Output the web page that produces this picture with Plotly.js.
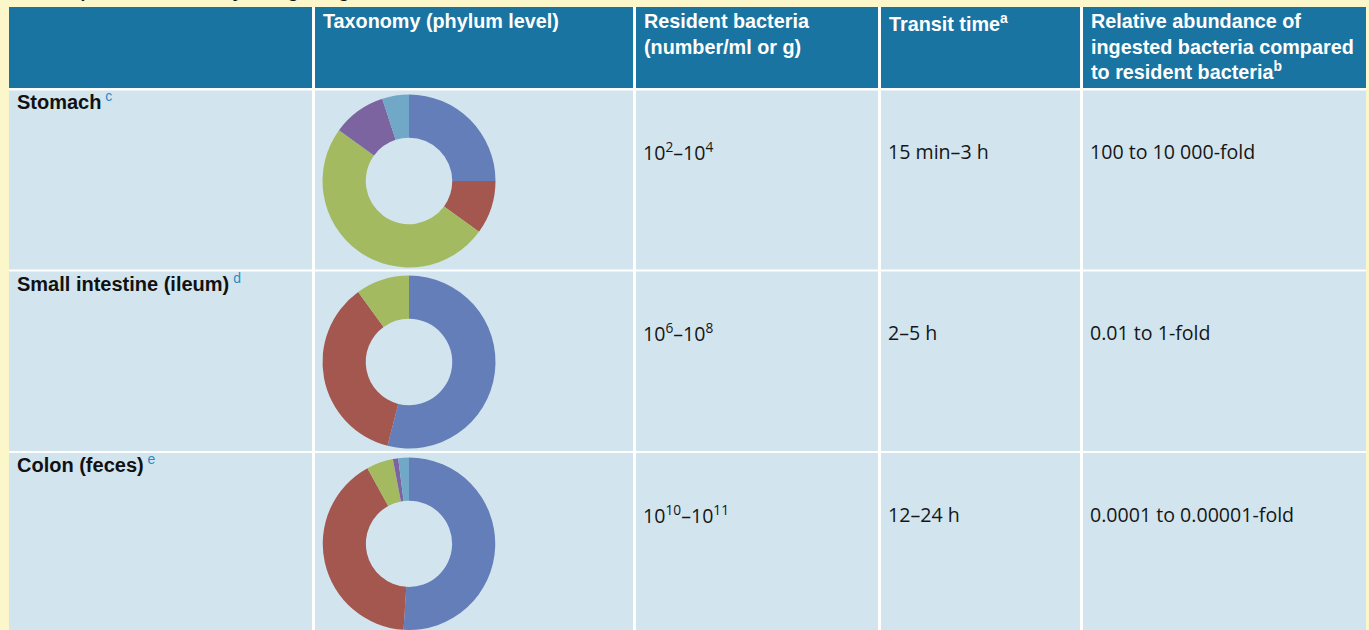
<!DOCTYPE html>
<html>
<head>
<meta charset="utf-8">
<script src="https://cdn.plot.ly/plotly-3.0.1.min.js"></script>
<style>html,body{margin:0;padding:0;background:#FCF7CB;}#chart{width:1369px;height:630px;}</style>
</head>
<body>
<div id="chart"></div>
<script>
// ---- data ----
const phyla = ['Firmicutes', 'Bacteroidetes', 'Proteobacteria', 'Actinobacteria', 'Fusobacteria'];
const phylumColors = ['#647EBA', '#A3574F', '#A4BA61', '#7B64A0', '#71A8C7'];
const sites = ['Stomach', 'Small intestine (ileum)', 'Colon (feces)'];
const siteNotes = ['c', 'd', 'e'];
const stomachShares = [25, 10, 50, 10, 5];
const ileumShares = [54, 36, 10, 0, 0];
const colonShares = [51, 41, 5, 1, 2];
const residentBacteria = ['10<sup>2</sup>–10<sup>4</sup>', '10<sup>6</sup>–10<sup>8</sup>', '10<sup>10</sup>–10<sup>11</sup>'];
const transitTimes = ['15 min–3 h', '2–5 h', '12–24 h'];
const relativeAbundance = ['100 to 10 000-fold', '0.01 to 1-fold', '0.0001 to 0.00001-fold'];
const headers = ['', 'Taxonomy (phylum level)', 'Resident bacteria<br>(number/ml or g)', 'Transit time<sup>a</sup>', 'Relative abundance of<br>ingested bacteria compared<br>to resident bacteria<sup>b</sup>'];
const tableTitle = 'Table 1 | Bacterial density along the gastrointestinal tract';

// ---- geometry helpers (pixels -> paper) ----
const W = 1369, H = 630;
const fx = x => x / W;
const fy = y => 1 - y / H;
const cols = [[9, 312], [315, 633], [636, 878], [881, 1080], [1083, 1366]];
const rows = [[7, 88], [90.5, 269.5], [271.5, 451], [453, 632]];
const headerColor = '#1A74A1', cellColor = '#D2E5EE';

const shapes = [];
rows.forEach((r, ri) => cols.forEach(c => {
  shapes.push({type: 'rect', xref: 'paper', yref: 'paper', layer: 'below',
    x0: fx(c[0]), x1: fx(c[1]), y0: fy(r[1]), y1: fy(r[0]),
    fillcolor: ri === 0 ? headerColor : cellColor, line: {width: 0}});
}));
// white gaps between cells
shapes.unshift({type: 'rect', xref: 'paper', yref: 'paper', layer: 'below',
  x0: fx(9), x1: fx(1366), y0: fy(632), y1: fy(7), fillcolor: '#FFFFFF', line: {width: 0}});

const annotations = [];
const hFont = {family: 'Liberation Sans, Arial, sans-serif', size: 19.8, color: '#FFFFFF', weight: 700};
headers.forEach((h, i) => {
  if (!h) return;
  annotations.push({xref: 'paper', yref: 'paper', x: fx(cols[i][0] + 6), y: fy(8), xanchor: 'left', yanchor: 'top',
    align: 'left', text: h, showarrow: false, font: hFont});
});
const lFont = {family: 'Liberation Sans, Arial, sans-serif', size: 20, color: '#111111', weight: 700};
const bFont = {family: 'Open Sans, sans-serif', size: 19.6, color: '#161616'};
sites.forEach((s, i) => {
  const top = rows[i + 1][0];
  annotations.push({xref: 'paper', yref: 'paper', x: fx(15), y: fy(top - 4), xanchor: 'left', yanchor: 'top',
    align: 'left', showarrow: false, font: lFont,
    text: s + '<sup><span style="color:#2A8CC4;font-weight:400"> ' + siteNotes[i] + '</span></sup>'});
  const mid = top + 61;
  [[residentBacteria, 2], [transitTimes, 3], [relativeAbundance, 4]].forEach(([arr, ci]) => {
    annotations.push({xref: 'paper', yref: 'paper', x: fx(cols[ci][0] + 5), y: fy(mid), xanchor: 'left', yanchor: 'middle',
      align: 'left', showarrow: false, font: bFont, text: arr[i]});
  });
});
annotations.push({xref: 'paper', yref: 'paper', x: fx(9), y: fy(3), xanchor: 'left', yanchor: 'bottom',
  showarrow: false, text: tableTitle, font: {family: 'Liberation Sans, Arial, sans-serif', size: 19, color: '#111111', weight: 700}});

// ---- donuts ----
const R = 86.5, cx = 409;
const centers = [181, 362, 544];
const shares = [stomachShares, ileumShares, colonShares];
const traces = shares.map((vals, i) => ({
  type: 'pie', labels: phyla, values: vals, hole: 0.5, sort: false, direction: 'clockwise', rotation: 0,
  marker: {colors: phylumColors, line: {width: 0}}, textinfo: 'none', hoverinfo: 'label+percent',
  name: sites[i], showlegend: false,
  domain: {x: [fx(cx - R), fx(cx + R)], y: [fy(centers[i] + R), fy(centers[i] - R)]}
}));

Plotly.newPlot('chart', traces, {
  width: W, height: H, margin: {l: 0, r: 0, t: 0, b: 0},
  paper_bgcolor: '#FCF7CB', plot_bgcolor: '#FCF7CB',
  shapes: shapes, annotations: annotations, showlegend: false
}, {displayModeBar: false, staticPlot: true});
</script>
</body>
</html>
